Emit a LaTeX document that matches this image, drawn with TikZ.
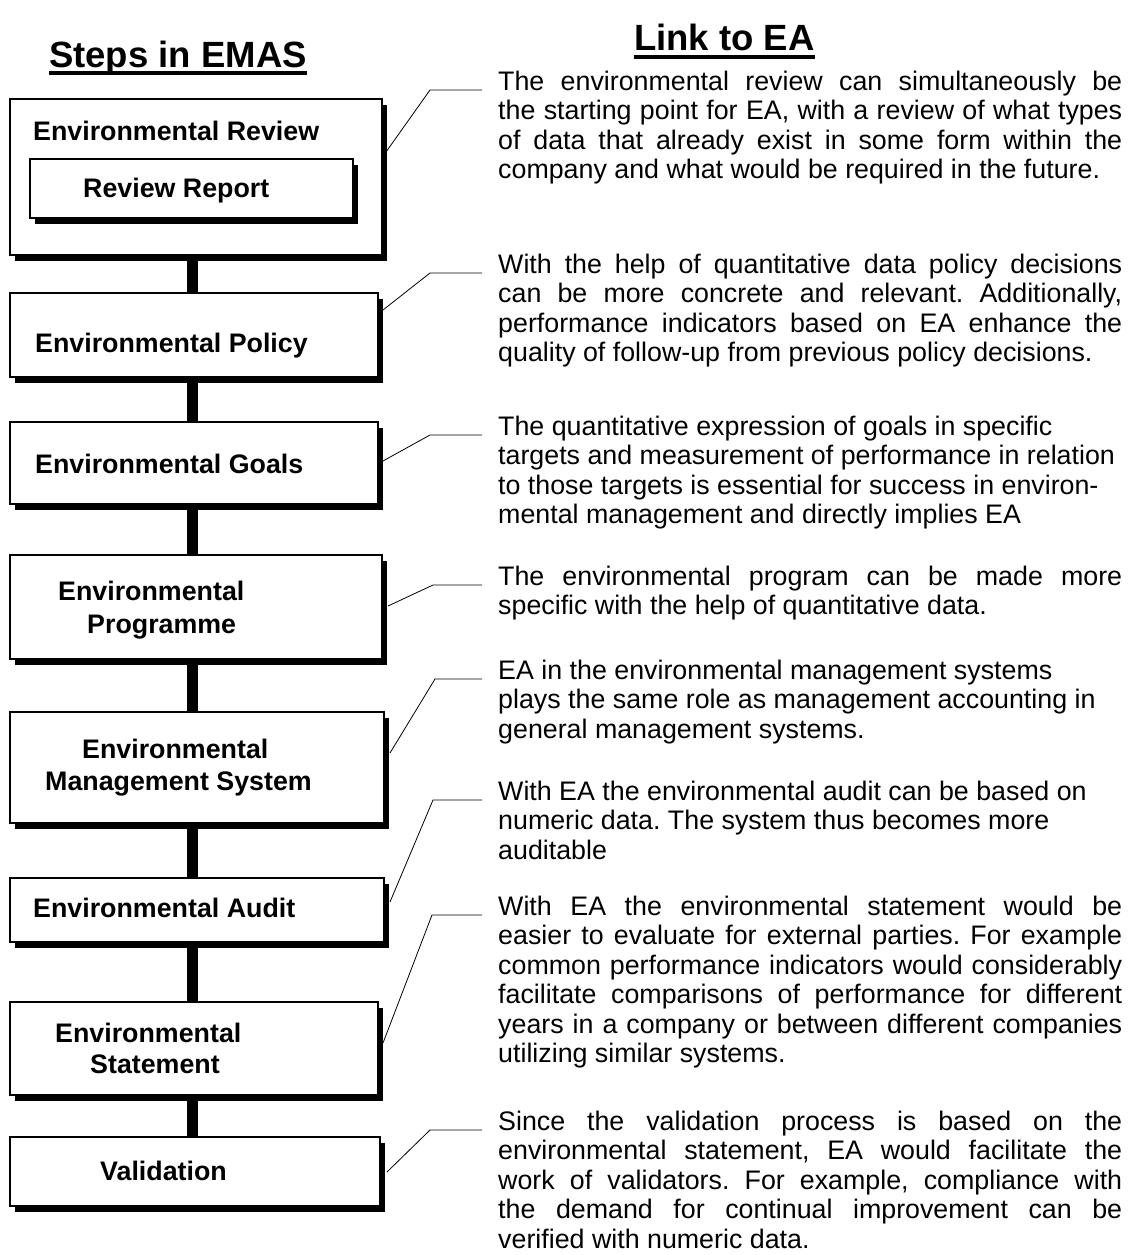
\documentclass[tikz,border=0pt]{standalone}
\usepackage{fontspec}
\setmainfont{Liberation Sans}
\usetikzlibrary{shadows,backgrounds}
\frenchspacing
\newlength\blockw
\setlength\blockw{624pt}
\newcommand\jl[1]{\makebox[\blockw][s]{#1}}
\newcommand\rl[1]{\mbox{#1}}
\begin{document}
\frenchspacing
\begin{tikzpicture}[x=1pt,y=-1pt,
  stepbox/.style={draw, line width=1.3pt, fill=white, inner sep=0pt, outer sep=0pt,
    drop shadow={shadow xshift=5pt, shadow yshift=-6pt, opacity=1, fill=black}},
  lbl/.style={anchor=base west, inner sep=0pt, font=\bfseries\fontsize{26.8}{30}\selectfont},
  txt/.style={anchor=base west, inner sep=0pt, font=\fontsize{26.8}{29.5}\selectfont},
  head/.style={anchor=base west, inner sep=0pt, font=\bfseries\fontsize{36.5}{40}\selectfont},
  bar/.style={line width=11pt},
  leader/.style={line width=0.8pt},
  ul/.style={line width=3.5pt}]
\useasboundingbox (0,0) rectangle (1128,1255);

% headers
\node[head] (h1) at (49,67) {Steps in EMAS};
\draw[ul] ([yshift=-6pt]h1.base west) -- ([yshift=-6pt]h1.base east);
\node[head] (h2) at (634,51) {Link to EA};
\draw[ul] ([yshift=-6pt]h2.base west) -- ([yshift=-6pt]h2.base east);

% step boxes
\node[stepbox, minimum width=372pt, minimum height=156pt] (b1) at (196,177) {};
\node[stepbox, minimum width=323pt, minimum height=59pt] (b1r) at (191.5,188.5) {};
\node[stepbox, minimum width=368pt, minimum height=84pt] (b2) at (194,335) {};
\node[stepbox, minimum width=368pt, minimum height=82pt] (b3) at (194,463) {};
\node[stepbox, minimum width=372pt, minimum height=104pt] (b4) at (196,607) {};
\node[stepbox, minimum width=374pt, minimum height=111pt] (b5) at (197,767.5) {};
\node[stepbox, minimum width=374pt, minimum height=64pt] (b6) at (197,910) {};
\node[stepbox, minimum width=368pt, minimum height=93pt] (b7) at (194,1048.5) {};
\node[stepbox, minimum width=370pt, minimum height=69pt] (b8) at (195,1171.5) {};

% labels
\node[lbl] (l1) at (33,140) {Environmental Review};
\node[lbl] (l1r) at (83,197) {Review Report};
\node[lbl] (l2) at (35,352) {Environmental Policy};
\node[lbl] (l3) at (35,473) {Environmental Goals};
\node[lbl] (l4a) at (58,600) {Environmental};
\node[lbl] (l4b) at (87,633) {Programme};
\node[lbl] (l5a) at (82,758) {Environmental};
\node[lbl] (l5b) at (45,790) {Management System};
\node[lbl] (l6) at (33,917) {Environmental Audit};
\node[lbl] (l7a) at (55,1042) {Environmental};
\node[lbl] (l7b) at (90,1073) {Statement};
\node[lbl] (l8) at (100,1180) {Validation};

% vertical bars
\coordinate (bx) at (192,0);
\begin{scope}[on background layer]
\draw[bar] (b1.south -| bx) -- (b2.north -| bx);
\draw[bar] (b2.south -| bx) -- (b3.north -| bx);
\draw[bar] (b3.south -| bx) -- (b4.north -| bx);
\draw[bar] (b4.south -| bx) -- (b5.north -| bx);
\draw[bar] (b5.south -| bx) -- (b6.north -| bx);
\draw[bar] (b6.south -| bx) -- (b7.north -| bx);
\draw[bar] (b7.south -| bx) -- (b8.north -| bx);
\end{scope}

% text blocks
\node[txt] (t1) at (498,90) {\parbox[t]{\blockw}{%
\jl{The environmental review can simultaneously be}\\
\jl{the starting point for EA, with a review of what types}\\
\jl{of data that already exist in some form within the}\\
\rl{company and what would be required in the future.}}};

\node[txt] (t2) at (498,273) {\parbox[t]{\blockw}{%
\jl{With the help of quantitative data policy decisions}\\
\jl{can be more concrete and relevant. Additionally,}\\
\jl{performance indicators based on EA enhance the}\\
\rl{quality of follow-up from previous policy decisions.}}};

\node[txt] (t3) at (498,435) {\parbox[t]{\blockw}{%
\rl{The quantitative expression of goals in specific}\\
\rl{targets and measurement of performance in relation}\\
\rl{to those targets is essential for success in environ-}\\
\rl{mental management and directly implies EA}}};

\node[txt] (t4) at (498,585) {\parbox[t]{\blockw}{%
\jl{The environmental program can be made more}\\
\rl{specific with the help of quantitative data.}}};

\node[txt] (t5) at (498,679) {\parbox[t]{\blockw}{%
\rl{EA in the environmental management systems}\\
\rl{plays the same role as management accounting in}\\
\rl{general management systems.}}};

\node[txt] (t6) at (498,800) {\parbox[t]{\blockw}{%
\rl{With EA the environmental audit can be based on}\\
\rl{numeric data. The system thus becomes more}\\
\rl{auditable}}};

\node[txt] (t7) at (498,915) {\parbox[t]{\blockw}{%
\jl{With EA the environmental statement would be}\\
\jl{easier to evaluate for external parties. For example}\\
\jl{common performance indicators would considerably}\\
\jl{facilitate comparisons of performance for different}\\
\jl{years in a company or between different companies}\\
\rl{utilizing similar systems.}}};

\node[txt] (t8) at (498,1130) {\parbox[t]{\blockw}{%
\jl{Since the validation process is based on the}\\
\jl{environmental statement, EA would facilitate the}\\
\jl{work of validators. For example, compliance with}\\
\jl{the demand for continual improvement can be}\\
\rl{verified with numeric data.}}};

% leader lines
\coordinate (k1) at (430,90);
\coordinate (k2) at (430,273);
\coordinate (k3) at (430,435);
\coordinate (k4) at (433,585);
\coordinate (k5) at (435,679);
\coordinate (k6) at (433,800);
\coordinate (k7) at (432,915);
\coordinate (k8) at (430,1130);
\draw[leader] ([xshift=4pt,yshift=25pt]b1.east) -- (k1) -- ([xshift=-16pt]t1.base west);
\draw[leader] ([xshift=5pt,yshift=25pt]b2.east) -- (k2) -- ([xshift=-16pt]t2.base west);
\draw[leader] ([xshift=5pt,yshift=2pt]b3.east) -- (k3) -- ([xshift=-16pt]t3.base west);
\draw[leader] ([xshift=6pt,yshift=1pt]b4.east) -- (k4) -- ([xshift=-16pt]t4.base west);
\draw[leader] ([xshift=6pt,yshift=14.5pt]b5.east) -- (k5) -- ([xshift=-16pt]t5.base west);
\draw[leader] ([xshift=6pt,yshift=8pt]b6.east) -- (k6) -- ([xshift=-16pt]t6.base west);
\draw[leader] ([xshift=5pt,yshift=5.5pt]b7.east) -- (k7) -- ([xshift=-16pt]t7.base west);
\draw[leader] ([xshift=7pt,yshift=-0.5pt]b8.east) -- (k8) -- ([xshift=-16pt]t8.base west);
\end{tikzpicture}
\end{document}
